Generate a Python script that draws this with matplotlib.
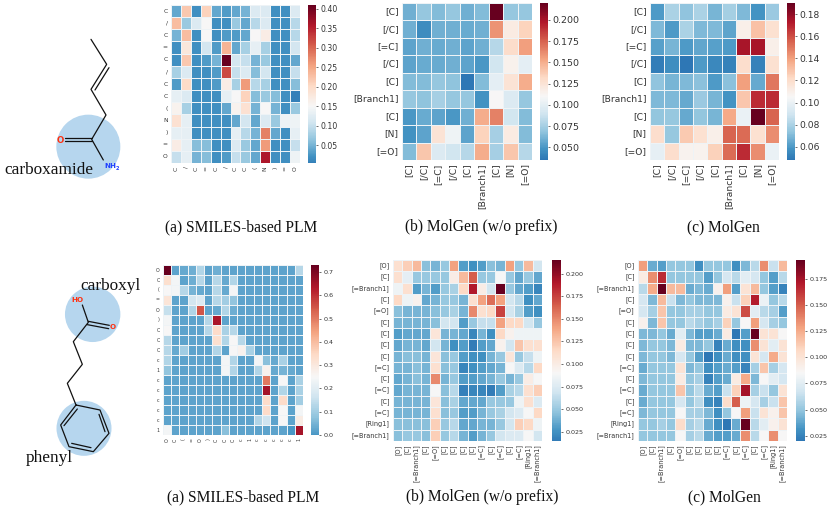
import matplotlib
matplotlib.use("Agg")
import matplotlib.pyplot as plt
from matplotlib.colors import LinearSegmentedColormap
from matplotlib.patches import Circle
import numpy as np
import seaborn as sns

W, H = 830, 507

labels_a1 = ["C", "/", "C", "=", "C", "/", "C", "C", "(", "N", ")", "=", "O"]
labels_b1 = ["[C]", "[/C]", "[=C]", "[/C]", "[C]", "[Branch1]", "[C]", "[N]", "[=O]"]
labels_a2 = ["O", "C", "(", "=", "O", ")", "C", "C", "C", "c", "1", "c", "c", "c", "c", "c", "1"]
labels_b2 = ["[O]", "[C]", "[=Branch1]", "[C]", "[=O]", "[C]", "[C]", "[C]", "[C]", "[=C]", "[C]",
             "[=C]", "[C]", "[=C]", "[Ring1]", "[=Branch1]"]

a1 = [
    [.04, .22, .02, .21, .04, .03, .04, .05, .12, .12, .02, .02, .12],
    [.23, .07, .12, .15, .02, .02, .07, .04, .09, .12, .02, .02, .09],
    [.05, .23, .02, .15, .02, .03, .03, .04, .15, .17, .02, .02, .09],
    [.02, .18, .02, .11, .03, .24, .04, .08, .13, .08, .02, .02, .11],
    [.02, .22, .02, .03, .05, .41, .11, .10, .05, .07, .02, .02, .04],
    [.08, .12, .02, .02, .03, .32, .10, .12, .06, .11, .02, .02, .10],
    [.03, .20, .02, .02, .03, .17, .08, .26, .09, .08, .02, .02, .06],
    [.13, .12, .02, .02, .02, .13, .15, .21, .06, .07, .06, .02, .005],
    [.16, .08, .02, .02, .02, .04, .16, .19, .05, .15, .05, .02, .07],
    [.19, .13, .02, .02, .02, .02, .04, .11, .04, .12, .07, .14, .14],
    [.13, .13, .02, .02, .02, .02, .13, .09, .05, .28, .04, .02, .13],
    [.17, .13, .06, .06, .02, .02, .12, .07, .04, .26, .02, .02, .10],
    [.10, .13, .05, .06, .02, .03, .10, .07, .04, .36, .02, .02, .14],
]
b1 = [
    [.06, .07, .065, .07, .06, .065, .22, .07, .07],
    [.06, .045, .06, .06, .058, .06, .16, .12, .135],
    [.055, .06, .058, .06, .055, .06, .08, .13, .155],
    [.055, .058, .058, .06, .055, .05, .09, .115, .10],
    [.065, .065, .07, .068, .035, .065, .10, .125, .15],
    [.07, .068, .075, .07, .07, .048, .11, .095, .07],
    [.05, .058, .055, .05, .06, .15, .165, .09, .065],
    [.048, .055, .125, .105, .055, .135, .075, .12, .065],
    [.065, .14, .095, .09, .08, .15, .075, .14, .08],
]
c1 = [
    [.06, .08, .073, .08, .068, .078, .07, .058, .076],
    [.07, .06, .08, .07, .07, .063, .11, .13, .118],
    [.062, .068, .06, .064, .062, .06, .175, .175, .11],
    [.05, .056, .048, .06, .054, .052, .12, .052, .118],
    [.073, .068, .07, .072, .06, .072, .14, .065, .15],
    [.07, .07, .065, .076, .068, .058, .128, .168, .168],
    [.074, .075, .065, .074, .068, .137, .10, .19, .155],
    [.12, .075, .127, .118, .11, .155, .153, .118, .145],
    [.098, .12, .108, .108, .125, .153, .168, .145, .10],
]
a2 = [
    [.73, .02, .03, .04, .12, .02, .04, .02, .02, .02, .02, .02, .02, .02, .02, .02, .13],
    [.33, .24, .02, .04, .13, .02, .13, .03, .12, .02, .02, .02, .02, .02, .02, .02, .02],
    [.25, .24, .13, .05, .03, .02, .13, .03, .24, .02, .02, .02, .02, .02, .02, .02, .02],
    [.31, .02, .02, .17, .19, .02, .13, .10, .08, .02, .02, .02, .02, .02, .02, .02, .02],
    [.15, .02, .02, .12, .55, .02, .03, .12, .04, .02, .02, .02, .02, .02, .02, .02, .02],
    [.24, .02, .02, .02, .02, .13, .64, .02, .02, .02, .02, .02, .02, .02, .02, .02, .02],
    [.25, .02, .02, .02, .02, .13, .34, .11, .13, .02, .02, .02, .02, .02, .02, .02, .02],
    [.13, .02, .02, .02, .02, .02, .33, .12, .25, .13, .02, .02, .02, .02, .02, .02, .02],
    [.13, .03, .10, .02, .02, .02, .12, .02, .25, .27, .11, .02, .02, .02, .02, .02, .02],
    [.12, .02, .02, .02, .02, .02, .02, .24, .12, .02, .02, .24, .07, .03, .11, .02, .02],
    [.08, .02, .02, .02, .02, .02, .02, .24, .12, .02, .02, .12, .27, .03, .05, .03, .02],
    [.02, .02, .02, .02, .02, .02, .02, .02, .02, .02, .02, .02, .50, .02, .25, .02, .11],
    [.02, .02, .02, .02, .02, .02, .02, .02, .02, .02, .02, .02, .65, .02, .12, .02, .11],
    [.02, .02, .02, .02, .02, .02, .02, .02, .02, .02, .02, .02, .34, .02, .34, .02, .10],
    [.02, .02, .02, .02, .02, .02, .02, .02, .02, .02, .02, .02, .34, .02, .25, .02, .24],
    [.02, .02, .02, .02, .02, .02, .02, .02, .02, .02, .02, .12, .16, .02, .25, .02, .29],
    [.24, .02, .02, .02, .02, .02, .02, .07, .02, .02, .02, .02, .02, .02, .02, .0, .65],
]
b2 = [
    [.11, .12, .13, .045, .04, .05, .14, .03, .025, .03, .045, .04, .14, .05, .13, .07],
    [.11, .08, .05, .05, .05, .05, .10, .13, .165, .05, .05, .09, .05, .035, .05, .035],
    [.085, .11, .03, .04, .03, .05, .055, .115, .19, .10, .07, .215, .05, .035, .03, .02],
    [.115, .085, .095, .035, .04, .05, .05, .04, .11, .14, .16, .14, .07, .06, .025, .035],
    [.045, .04, .04, .04, .045, .05, .055, .04, .15, .11, .115, .175, .07, .055, .03, .025],
    [.04, .04, .04, .04, .045, .07, .07, .03, .05, .065, .065, .14, .115, .115, .07, .05],
    [.03, .035, .035, .035, .105, .04, .04, .035, .02, .04, .025, .115, .095, .085, .085, .085],
    [.035, .04, .04, .035, .07, .04, .025, .03, .015, .03, .035, .095, .07, .125, .11, .11],
    [.04, .045, .045, .04, .105, .045, .05, .03, .025, .025, .04, .05, .105, .05, .065, .085],
    [.04, .04, .045, .04, .11, .045, .05, .02, .025, .03, .035, .04, .09, .075, .06, .115],
    [.035, .04, .045, .04, .15, .04, .05, .03, .03, .035, .04, .05, .04, .05, .10, .09],
    [.035, .04, .04, .04, .09, .045, .06, .018, .02, .02, .015, .03, .055, .06, .11, .12],
    [.04, .04, .04, .04, .105, .045, .055, .035, .035, .035, .05, .05, .05, .085, .11, .075],
    [.04, .04, .04, .04, .11, .045, .05, .03, .03, .04, .05, .055, .07, .075, .09, .115],
    [.045, .045, .045, .045, .12, .05, .06, .035, .035, .04, .04, .05, .07, .12, .115, .085],
    [.045, .05, .05, .045, .12, .05, .06, .04, .03, .04, .05, .07, .075, .075, .09, .07],
]
c2 = [
    [.13, .04, .035, .05, .05, .05, .03, .05, .05, .05, .03, .045, .06, .135, .065, .12],
    [.095, .135, .165, .05, .05, .05, .05, .035, .05, .07, .06, .075, .07, .05, .035, .06],
    [.06, .125, .193, .12, .12, .04, .045, .04, .09, .13, .035, .10, .12, .05, .035, .025],
    [.07, .045, .12, .065, .045, .05, .045, .045, .045, .09, .065, .11, .17, .08, .05, .06],
    [.07, .055, .115, .05, .05, .055, .055, .05, .05, .095, .10, .155, .075, .06, .055, .035],
    [.09, .045, .115, .05, .05, .06, .055, .05, .055, .11, .05, .085, .13, .07, .055, .05],
    [.045, .045, .05, .04, .075, .045, .035, .035, .04, .095, .02, .035, .193, .10, .10, .085],
    [.045, .05, .05, .045, .095, .045, .045, .05, .025, .04, .03, .03, .135, .10, .075, .10],
    [.045, .05, .05, .045, .07, .05, .035, .02, .03, .04, .03, .03, .10, .07, .125, .10],
    [.04, .05, .05, .05, .10, .045, .05, .03, .035, .04, .035, .025, .055, .115, .055, .07],
    [.045, .05, .05, .05, .095, .05, .055, .025, .035, .04, .095, .125, .045, .085, .075, .07],
    [.04, .05, .05, .05, .115, .05, .06, .04, .035, .065, .11, .175, .055, .065, .05, .10],
    [.04, .05, .05, .05, .07, .05, .06, .03, .025, .105, .15, .08, .07, .055, .065, .115],
    [.045, .05, .05, .05, .085, .055, .055, .045, .03, .05, .085, .13, .065, .10, .09, .115],
    [.05, .05, .055, .05, .105, .055, .06, .04, .03, .02, .04, .193, .06, .075, .09, .10],
    [.05, .05, .05, .05, .085, .055, .06, .04, .035, .035, .04, .135, .06, .085, .135, .085],
]

captions = ["(a) SMILES-based PLM", "(b) MolGen (w/o prefix)", "(c) MolGen"]

fig = plt.figure(figsize=(W / 100, H / 100), dpi=100)
fig.patch.set_facecolor("white")
base = plt.get_cmap("RdBu_r")


def box(x0, y0, x1, y1):
    return [x0 / W, 1 - y1 / H, (x1 - x0) / W, (y1 - y0) / H]


def panel(data, labels, rect, cbar_rect, center, low, ticks, tick_fmt, lab_fs, cb_fs):
    arr = np.array(data)
    vmin, vmax = arr.min(), arr.max()
    t = (center - vmin) / (vmax - vmin)
    stops = [i / 40 for i in range(41)]
    nodes = [(s * t, base(low + s * (0.5 - low))) for s in stops] + \
            [(t + s * (1 - t), base(0.5 + s * 0.5)) for s in stops[1:]]
    cmap = LinearSegmentedColormap.from_list("piece", nodes, N=256)
    ax = fig.add_axes(box(*rect))
    cax = fig.add_axes(box(*cbar_rect))
    sns.heatmap(arr, ax=ax, cbar_ax=cax, cmap=cmap, vmin=vmin, vmax=vmax,
                linewidths=0.4, linecolor="#eef3f6", xticklabels=labels, yticklabels=labels)
    ax.tick_params(length=0, labelsize=lab_fs, pad=2.5, colors="#333333")
    ax.set_xticklabels(labels, rotation=90)
    ax.set_yticklabels(labels, rotation=0)
    cax.set_yticks(ticks)
    cax.set_yticklabels([tick_fmt % v for v in ticks])
    cax.tick_params(length=1.5, width=0.5, labelsize=cb_fs, pad=1.5, colors="#333333")
    cax.collections[0].set_edgecolor("face")
    for s in cax.spines.values():
        s.set_visible(False)


panel(a1, labels_a1, (171, 5, 300, 163), (308, 5, 316, 163), .15, .16,
      [.05, .10, .15, .20, .25, .30, .35, .40], "%.2f", 4.3, 5.6)
panel(b1, labels_b1, (402, 3, 532, 160), (540, 3, 548, 160), .11, .14,
      [.05, .075, .10, .125, .15, .175, .20], "%.3f", 6.6, 6.8)
panel(c1, labels_b1, (650, 3, 779, 160), (787, 3, 795, 160), .105, .14,
      [.06, .08, .10, .12, .14, .16, .18], "%.2f", 6.6, 6.6)
panel(a2, labels_a2, (163, 265, 303, 435), (311, 265, 319, 435), .25, .21,
      [0, .1, .2, .3, .4, .5, .6, .7], "%.1f", 3.4, 4.6)
panel(b2, labels_b2, (393, 260, 542, 441), (552, 260, 561, 441), .09, .15,
      [.025, .05, .075, .10, .125, .15, .175, .20], "%.3f", 4.7, 4.6)
panel(c2, labels_b2, (638, 260, 787, 441), (796, 260, 805, 441), .085, .14,
      [.025, .05, .075, .10, .125, .15, .175], "%.3f", 4.7, 4.6)

# overlay in pixel coordinates: molecule sketches and captions
ov = fig.add_axes([0, 0, 1, 1], zorder=10)
ov.set_xlim(0, W)
ov.set_ylim(H, 0)
ov.axis("off")
ov.patch.set_alpha(0)

serif = "Liberation Serif"
BLUE = "#b6d6ee"


def bond(pts, off=(0, 0), lw=0.9):
    xs = [p[0] / 3 + off[0] for p in pts]
    ys = [p[1] / 3 + off[1] for p in pts]
    ov.plot(xs, ys, color="#111111", lw=lw, solid_capstyle="round", solid_joinstyle="round")


# carboxamide molecule
o1 = (0, 20)
ov.add_patch(Circle((265 / 3, 380 / 3 + 20), 32, fc=BLUE, ec="none"))
bond([(273, 58), (320, 133), (273, 208), (318, 285), (275, 358), (310, 420)], o1)
bond([(327, 143), (285, 210)], o1)
bond([(195, 353), (275, 353)], o1)
bond([(195, 364), (275, 364)], o1)
ov.text(60.5, 140.5, "O", color="#ff3010", fontsize=6.2, fontweight="bold", ha="center", va="center")
ov.text(110, 166, "NH", color="#2040ff", fontsize=5.2, fontweight="bold", ha="center", va="center")
ov.text(117.5, 168.5, "2", color="#2040ff", fontsize=3.6, fontweight="bold", ha="center", va="center")
ov.text(4, 170, "carboxamide", family=serif, fontsize=12.4, color="#111111", va="center", ha="left")

# carboxyl / phenyl molecule
o2 = (0, 260)
ov.add_patch(Circle((278 / 3, 163 / 3 + 260), 27.7, fc=BLUE, ec="none"))
ov.add_patch(Circle((252 / 3, 505 / 3 + 260), 27.5, fc=BLUE, ec="none"))
bond([(247, 135), (265, 187), (220, 245), (247, 313), (202, 370), (228, 435)], o2)
bond([(265, 184), (328, 196)], o2)
bond([(262, 194), (326, 206)], o2)
bond([(228, 435), (300, 450), (327, 520), (280, 575), (207, 560), (182, 495), (228, 435)], o2)
bond([(297, 463), (315, 515)], o2)
bond([(273, 563), (215, 550)], o2)
bond([(192, 497), (232, 447)], o2)
ov.text(77, 300.5, "HO", color="#ff3010", fontsize=5.2, fontweight="bold", ha="center", va="center")
ov.text(113, 327, "O", color="#ff3010", fontsize=5.2, fontweight="bold", ha="center", va="center")
ov.text(80, 286.5, "carboxyl", family=serif, fontsize=12.4, color="#111111", va="center", ha="left")
ov.text(26, 458, "phenyl", family=serif, fontsize=12.4, color="#111111", va="center", ha="left")

for y, shift in ((227, 0), (497, 1.5)):
    for x, cap in zip((241.5, 481, 723), captions):
        ov.text(x + shift, y, cap, family=serif, fontsize=11.2, color="#111111", ha="center", va="center")

fig.savefig("out.png", dpi=100)
